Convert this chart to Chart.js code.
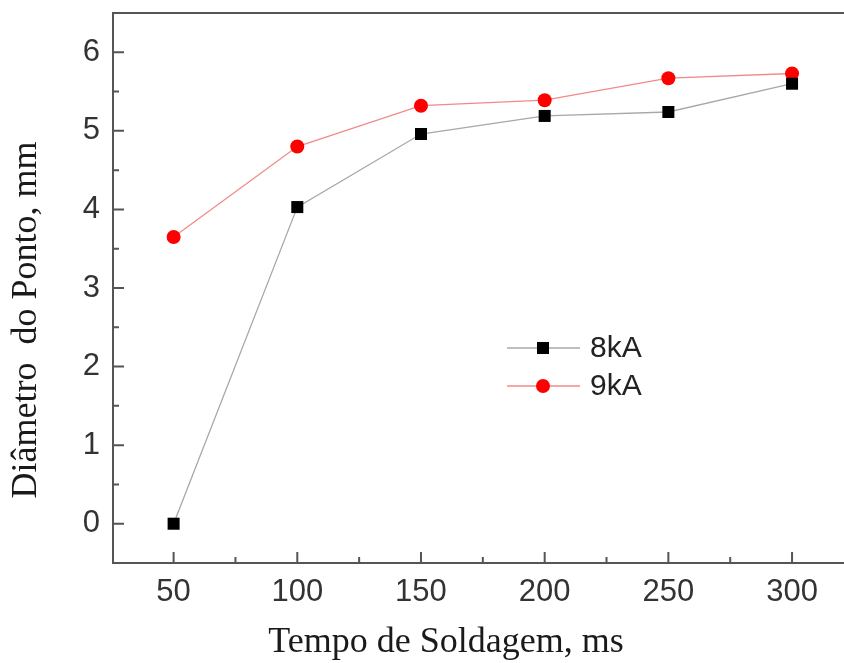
<!DOCTYPE html>
<html>
<head>
<meta charset="utf-8">
<script src="https://cdn.jsdelivr.net/npm/chart.js@4.4.1/dist/chart.umd.min.js"></script>
<style>
  html, body { margin: 0; padding: 0; background: #fff; }
  #wrap { width: 844px; height: 663px; }
</style>
</head>
<body>
<div id="wrap"><canvas id="weldChart" width="844" height="663"></canvas></div>
<script>
// weld time vs spot diameter
const weldTimes = [50, 100, 150, 200, 250, 300];
const diam8kA = [0, 4.03, 4.96, 5.19, 5.24, 5.6];
const diam9kA = [3.65, 4.8, 5.32, 5.39, 5.67, 5.73];
const xTickValues = [50, 100, 150, 200, 250, 300];
const yTickValues = [0, 1, 2, 3, 4, 5, 6];
const seriesNames = ["8kA", "9kA"];

const axisColor = "#555";
const tickFont = { family: "'Liberation Sans', Arial, sans-serif", size: 31 };

const toPoints = (ys) => weldTimes.map((x, i) => ({ x: x, y: ys[i] }));

// no extra room for the end labels, the frame is placed by hand
const noEdgePadding = (scale) => {
  scale.paddingTop = 0;
  scale.paddingBottom = 0;
  scale.paddingLeft = 0;
  scale.paddingRight = 0;
};

// frame lines + tick marks inside the frame
const framePlugin = {
  id: "frame",
  afterDraw(chart) {
    const { ctx, chartArea, scales } = chart;
    const xs = scales.x;
    const ys = scales.y;
    ctx.save();
    ctx.strokeStyle = axisColor;
    ctx.lineWidth = 2;

    // top and bottom lines, open on the right
    ctx.beginPath();
    ctx.moveTo(chartArea.left, chartArea.top);
    ctx.lineTo(chart.width, chartArea.top);
    ctx.moveTo(chartArea.left, chartArea.bottom);
    ctx.lineTo(chart.width, chartArea.bottom);
    ctx.stroke();

    ctx.beginPath();
    xTickValues.forEach((v, i) => {
      const px = xs.getPixelForValue(v);
      ctx.moveTo(px, chartArea.bottom);
      ctx.lineTo(px, chartArea.bottom - 11);
      if (i < xTickValues.length - 1) {
        const mx = xs.getPixelForValue((v + xTickValues[i + 1]) / 2);
        ctx.moveTo(mx, chartArea.bottom);
        ctx.lineTo(mx, chartArea.bottom - 6);
      }
    });
    yTickValues.forEach((v, i) => {
      const py = ys.getPixelForValue(v);
      ctx.moveTo(chartArea.left, py);
      ctx.lineTo(chartArea.left + 11, py);
      if (i < yTickValues.length - 1) {
        const my = ys.getPixelForValue((v + yTickValues[i + 1]) / 2);
        ctx.moveTo(chartArea.left, my);
        ctx.lineTo(chartArea.left + 6, my);
      }
    });
    ctx.stroke();

    // axis titles
    ctx.fillStyle = "#1a1a1a";
    ctx.font = "36px 'Liberation Serif', 'Times New Roman', serif";
    ctx.textAlign = "center";
    ctx.textBaseline = "middle";
    ctx.fillText("Tempo de Soldagem, ms", 446, 643);
    ctx.translate(27, 320);
    ctx.rotate(-Math.PI / 2);
    ctx.fillText("Diâmetro  do Ponto, mm", 0, 0);
    ctx.restore();
  },
};

// legend with line + marker
const legendPlugin = {
  id: "lineLegend",
  afterDraw(chart) {
    const { ctx } = chart;
    const rows = [348, 386];
    ctx.save();
    chart.data.datasets.forEach((ds, i) => {
      const y = rows[i];
      ctx.strokeStyle = ds.borderColor;
      ctx.lineWidth = ds.borderWidth;
      ctx.beginPath();
      ctx.moveTo(507, y);
      ctx.lineTo(580, y);
      ctx.stroke();
      ctx.fillStyle = ds.pointBackgroundColor;
      ctx.beginPath();
      if (ds.pointStyle === "rect") {
        const s = ds.pointRadius * Math.SQRT1_2;
        ctx.rect(543 - s, y - s, 2 * s, 2 * s);
      } else {
        ctx.arc(543, y, ds.pointRadius, 0, Math.PI * 2);
      }
      ctx.fill();
      ctx.fillStyle = "#222";
      ctx.font = "30px 'Liberation Sans', Arial, sans-serif";
      ctx.textAlign = "left";
      ctx.textBaseline = "middle";
      ctx.fillText(ds.label, 590, y + 1);
    });
    ctx.restore();
  },
};

new Chart(document.getElementById("weldChart"), {
  type: "line",
  data: {
    datasets: [
      {
        label: seriesNames[0],
        data: toPoints(diam8kA),
        borderColor: "#a8a8a8",
        borderWidth: 1.3,
        pointStyle: "rect",
        pointRadius: 8.5,
        pointBackgroundColor: "#000",
        pointBorderWidth: 0,
        tension: 0,
      },
      {
        label: seriesNames[1],
        data: toPoints(diam9kA),
        borderColor: "#f08a8a",
        borderWidth: 1.3,
        pointStyle: "circle",
        pointRadius: 7,
        pointBackgroundColor: "#ff0000",
        pointBorderWidth: 0,
        tension: 0,
      },
    ],
  },
  options: {
    responsive: false,
    animation: false,
    devicePixelRatio: 1,
    layout: { autoPadding: false, padding: { top: 13, right: 0, left: 0, bottom: 0 } },
    plugins: {
      legend: { display: false },
      tooltip: { enabled: false },
    },
    scales: {
      x: {
        type: "linear",
        min: 25.5,
        max: 321,
        afterBuildTicks: (scale) => {
          scale.ticks = xTickValues.map((v) => ({ value: v }));
        },
        afterFit: (scale) => {
          scale.height = 100;
          noEdgePadding(scale);
        },
        grid: { drawOnChartArea: false, drawTicks: false },
        border: { display: false },
        ticks: { color: "#333", font: tickFont, padding: 11, maxRotation: 0, autoSkip: false },
      },
      y: {
        min: -0.5,
        max: 6.5,
        afterBuildTicks: (scale) => {
          scale.ticks = yTickValues.map((v) => ({ value: v }));
        },
        afterFit: (scale) => {
          scale.width = 113;
          noEdgePadding(scale);
        },
        grid: { drawOnChartArea: false, drawTicks: false },
        border: { color: axisColor, width: 2 },
        ticks: { color: "#333", font: tickFont, padding: 13 },
      },
    },
  },
  plugins: [framePlugin, legendPlugin],
});
</script>
</body>
</html>
